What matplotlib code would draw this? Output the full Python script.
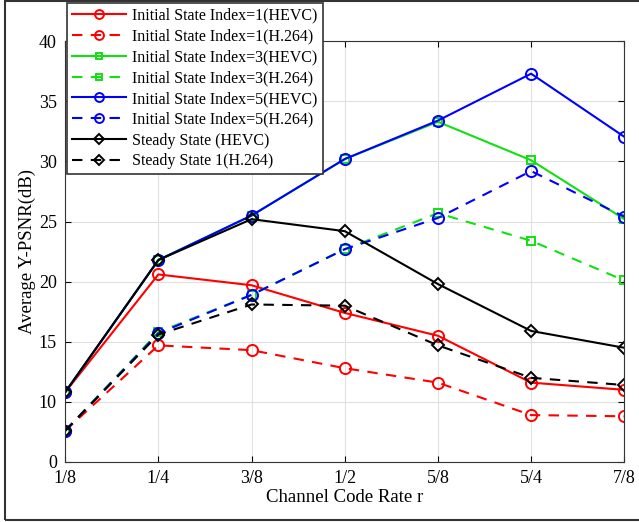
import matplotlib.pyplot as plt
from matplotlib.patches import Rectangle

plt.rcParams['font.family'] = ['Liberation Serif', 'DejaVu Serif']

rates = ['1/8', '1/4', '3/8', '1/2', '5/8', '5/4', '7/8']
ytick_vals = [5, 10, 15, 20, 25, 30, 35, 40]
ytick_labels = ['0', '10', '15', '20', '25', '30', '35', '40']

init1_hevc = [10.8, 20.6, 19.7, 17.4, 15.5, 11.6, 11.0]
init1_h264 = [7.6, 14.7, 14.3, 12.8, 11.6, 8.9, 8.8]
init3_hevc = [10.8, 21.8, 25.5, 30.2, 33.3, 30.1, 25.2]
init3_h264 = [7.6, 15.8, 18.9, 22.7, 25.7, 23.4, 20.1]
init5_hevc = [10.8, 21.8, 25.5, 30.2, 33.4, 37.3, 32.05]
init5_h264 = [7.6, 15.7, 18.9, 22.7, 25.3, 29.2, 25.4]
steady_hevc = [10.8, 21.8, 25.2, 24.2, 19.8, 15.9, 14.5]
steady_h264 = [7.6, 15.6, 18.1, 18.0, 14.7, 12.0, 11.4]

series = [
    (init1_hevc, 'Initial State Index=1(HEVC)', 'r', '-', 'o'),
    (init1_h264, 'Initial State Index=1(H.264)', 'r', '--', 'o'),
    (init3_hevc, 'Initial State Index=3(HEVC)', '#11e011', '-', 's'),
    (init3_h264, 'Initial State Index=3(H.264)', '#11e011', '--', 's'),
    (init5_hevc, 'Initial State Index=5(HEVC)', 'b', '-', 'o'),
    (init5_h264, 'Initial State Index=5(H.264)', 'b', '--', 'o'),
    (steady_hevc, 'Steady State (HEVC)', 'k', '-', 'D'),
    (steady_h264, 'Steady State 1(H.264)', 'k', '--', 'D'),
]

fig = plt.figure(figsize=(6.39, 5.22), dpi=100)
ax = fig.add_axes([0.102, 0.115, 0.875, 0.806])

x = list(range(len(rates)))
for vals, lab, col, ls, mk in series:
    ms = {'s': 6, 'o': 8, 'D': 6.5}[mk]
    ax.plot(x, vals, color=col, linestyle=ls, marker=mk, markersize=ms,
            markerfacecolor='none', markeredgewidth=1.4, linewidth=1.5,
            label=lab, dashes=(5, 4) if ls == '--' else (None, None))

ax.set_xlim(0, len(rates) - 1)
ax.set_ylim(5, 40)
ax.set_xticks(x)
ax.set_xticklabels(rates)
ax.set_yticks(ytick_vals)
ax.set_yticklabels(ytick_labels)
ax.tick_params(direction='in', top=True, right=True, labelsize=13, length=4, pad=6)
ax.grid(True, color='#e0e0e0', linewidth=0.8)
ax.set_axisbelow(True)
for s in ax.spines.values():
    s.set_color('#333333')
ax.set_xlabel('Channel Code Rate r', fontsize=13.5, labelpad=1)
ax.set_ylabel('Average Y-PSNR(dB)', fontsize=13.5, labelpad=2)

leg = ax.legend(loc='upper left', bbox_to_anchor=(67 / 639, 1 - 3 / 522),
                bbox_transform=fig.transFigure, fontsize=11.5, handlelength=3.4,
                labelspacing=0.3, borderaxespad=0, borderpad=0.3,
                handletextpad=0.4, fancybox=False, framealpha=1, edgecolor='#333333',
                markerscale=0.8)
leg.get_frame().set_linewidth(1.2)

fig.patches.append(Rectangle((5 / 639, 2 / 522), 1.1, 1 - 3 / 522,
                             transform=fig.transFigure, fill=False,
                             edgecolor='#333333', linewidth=1.5))

fig.savefig('out.png', dpi=100)
